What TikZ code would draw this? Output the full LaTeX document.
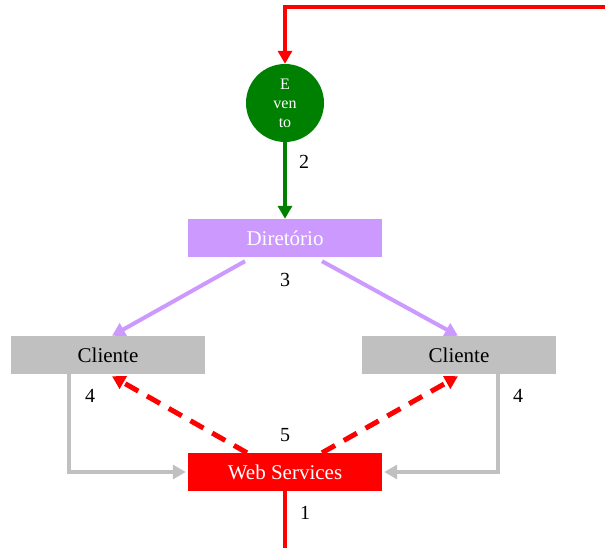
\documentclass[tikz,border=0pt]{standalone}
\usepackage{fontspec}
\setmainfont{Liberation Serif}
\usetikzlibrary{arrows.meta}

\definecolor{evgreen}{RGB}{0,128,0}
\definecolor{dirlila}{RGB}{204,153,255}
\definecolor{cligray}{RGB}{192,192,192}

\tikzset{
  box/.style={minimum width=194pt, minimum height=38pt, inner sep=0pt, font=\fontsize{21}{21}\selectfont},
  num/.style={font=\fontsize{20}{20}\selectfont},
  tip/.style={-{Triangle[length=13pt,width=14pt]}},
}

\begin{document}
\begin{tikzpicture}[x=1pt,y=-1pt]
	\useasboundingbox (0,0) rectangle (605,548);
	% nodes
	\node[circle, fill=evgreen, minimum size=78pt, inner sep=0pt, text=white, align=center,
	      font=\fontsize{16}{19}\selectfont] (ev) at (285,103) {E\\ven\\to};
	\node[box, fill=dirlila, text=white] (dir) at (285,238) {Diret\'orio};
	\node[box, fill=cligray] (cliL) at (108,355) {Cliente};
	\node[box, fill=cligray] (cliR) at (459,355) {Cliente};
	\node[box, fill=red, text=white] (ws) at (285,472) {Web Services};
	\coordinate (top) at (606,7);
	\coordinate (bot) at (285,549);
	% connectors
	\draw[tip, red, line width=4pt] (top) -| (ev.north);
	\draw[tip, evgreen, line width=4pt] (ev.south) -- (dir.north);
	\draw[tip, dirlila, line width=4pt] ([xshift=-40pt,yshift=-4pt]dir.south) -- ([xshift=4pt]cliL.north);
	\draw[tip, dirlila, line width=4pt] ([xshift=37pt,yshift=-4pt]dir.south) -- ([xshift=-1pt]cliR.north);
	\draw[tip, red, line width=5pt, dash pattern=on 15pt off 10pt] ([xshift=-38pt]ws.north) -- ([xshift=4pt,yshift=-2pt]cliL.south);
	\draw[tip, red, line width=5pt, dash pattern=on 15pt off 10pt] ([xshift=37pt]ws.north) -- ([xshift=-1pt,yshift=-2pt]cliR.south);
	\draw[tip, cligray, line width=4pt] ([xshift=58pt]cliL.south west) |- ([xshift=-2pt]ws.west);
	\draw[tip, cligray, line width=4pt] ([xshift=-58pt]cliR.south east) |- ([xshift=2pt]ws.east);
	\draw[red, line width=4pt] (ws.south) -- (bot);
	% labels
	\node[num] (n2) at (304,162) {2};
	\node[num] (n3) at (285,280) {3};
	\node[num] (n4l) at (90,396) {4};
	\node[num] (n4r) at (518,396) {4};
	\node[num] (n5) at (285,435) {5};
	\node[num] (n1) at (305,513) {1};
\end{tikzpicture}
\end{document}
